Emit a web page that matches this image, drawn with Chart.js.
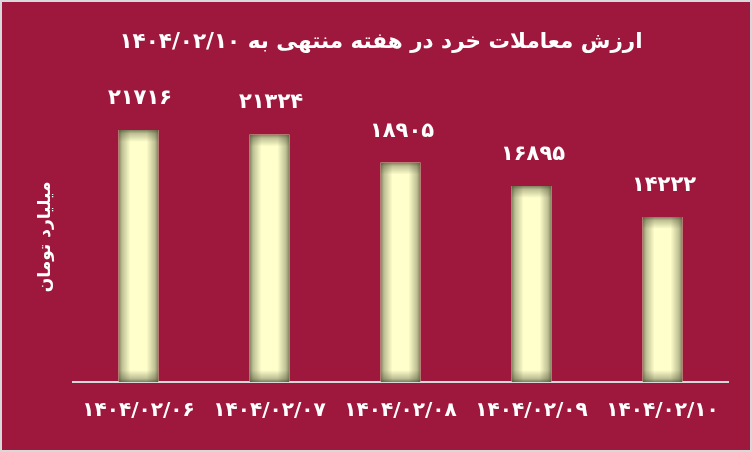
<!DOCTYPE html>
<html>
<head>
<meta charset="utf-8">
<script src="https://cdn.jsdelivr.net/npm/chart.js@4.4.1/dist/chart.umd.min.js"></script>
<style>
html,body{margin:0;padding:0;background:#9E173C;}
#wrap{width:752px;height:452px;position:relative;}
</style>
</head>
<body>
<div id="wrap"><canvas id="c"></canvas></div>
<script>
const titleText = 'ارزش معاملات خرد در هفته منتهی به ۱۴۰۴/۰۲/۱۰';
const yAxisTitle = 'میلیارد تومان';
const categories = ['۱۴۰۴/۰۲/۰۶', '۱۴۰۴/۰۲/۰۷', '۱۴۰۴/۰۲/۰۸', '۱۴۰۴/۰۲/۰۹', '۱۴۰۴/۰۲/۱۰'];
const values = [21716, 21324, 18905, 16895, 14222];

const BG = '#9E173C';
const FONT = '"DejaVu Sans", sans-serif';
const toFa = v => String(v).replace(/\d/g, d => '۰۱۲۳۴۵۶۷۸۹'[d]);

const bgPlugin = {
  id: 'bg',
  beforeDraw(chart) {
    const ctx = chart.ctx;
    ctx.save();
    ctx.fillStyle = BG;
    ctx.fillRect(0, 0, chart.width, chart.height);
    ctx.strokeStyle = '#d9d9d9';
    ctx.lineWidth = 2;
    ctx.strokeRect(1, 1, chart.width - 2, chart.height - 2);
    ctx.restore();
  }
};

const shadePlugin = {
  id: 'shade',
  afterDatasetsDraw(chart) {
    const ctx = chart.ctx;
    const meta = chart.getDatasetMeta(0);
    meta.data.forEach((el, i) => {
      const l = el.x - el.width / 2, r = el.x + el.width / 2;
      const t = el.y, b = el.base;
      const s = 12;
      const dark = a => `rgba(70,75,45,${a})`;
      const mk = (x0, y0, x1, y1) => {
        const g = ctx.createLinearGradient(x0, y0, x1, y1);
        g.addColorStop(0, dark(0.7));
        g.addColorStop(0.3, dark(0.35));
        g.addColorStop(1, dark(0));
        return g;
      };
      ctx.save();
      ctx.beginPath(); ctx.rect(l, t, r - l, b - t); ctx.clip();
      ctx.fillStyle = mk(l, 0, l + s, 0); ctx.fillRect(l, t, s, b - t);
      ctx.fillStyle = mk(r, 0, r - s, 0); ctx.fillRect(r - s, t, s, b - t);
      ctx.fillStyle = mk(0, t, 0, t + s); ctx.fillRect(l, t, r - l, s);
      ctx.fillStyle = mk(0, b, 0, b - s); ctx.fillRect(l, b - s, r - l, s);
      ctx.restore();

      ctx.save();
      ctx.fillStyle = '#ffffff';
      ctx.font = 'bold 21px ' + FONT;
      ctx.textAlign = 'center';
      ctx.textBaseline = 'alphabetic';
      try { ctx.letterSpacing = '3px'; } catch (e) {}
      ctx.fillText(toFa(values[i]), el.x + 1.5, t - 26);
      ctx.restore();
    });
  }
};

new Chart(document.getElementById('c'), {
  type: 'bar',
  data: {
    labels: categories,
    datasets: [{
      data: values,
      backgroundColor: '#FFFFCC',
      borderWidth: 0,
      barPercentage: 0.305,
      categoryPercentage: 1
    }]
  },
  options: {
    responsive: true,
    maintainAspectRatio: false,
    animation: false,
    events: [],
    layout: { padding: { left: 10, right: 0, top: 0, bottom: 0 } },
    plugins: {
      legend: { display: false },
      tooltip: { enabled: false },
      title: {
        display: true,
        text: titleText,
        color: '#ffffff',
        font: { family: FONT, size: 21.5, weight: 'bold', lineHeight: 1.2 },
        padding: { top: 30, bottom: 36 }
      }
    },
    scales: {
      x: {
        grid: { display: false, drawTicks: false },
        border: { display: true, color: '#d9d9d9', width: 2 },
        ticks: {
          color: '#ffffff',
          font: { family: FONT, size: 20, weight: 'bold' },
          padding: 17,
          maxRotation: 0,
          autoSkip: false
        },
        afterFit(scale) { scale.height = 70; }
      },
      y: {
        min: 0,
        max: 25000,
        grid: { display: false, drawTicks: false },
        border: { display: false },
        ticks: { display: false },
        title: {
          display: true,
          text: yAxisTitle,
          color: '#ffffff',
          font: { family: FONT, size: 17, weight: 'bold', lineHeight: 1.2 },
          padding: { top: 25, bottom: 0 }
        },
        afterFit(scale) { scale.width = 63; }
      },
      yRight: {
        position: 'right',
        min: 0,
        max: 25000,
        grid: { display: false, drawTicks: false },
        border: { display: false },
        ticks: { display: false },
        afterFit(scale) { scale.width = 24; }
      }
    }
  },
  plugins: [bgPlugin, shadePlugin]
});
</script>
</body>
</html>
